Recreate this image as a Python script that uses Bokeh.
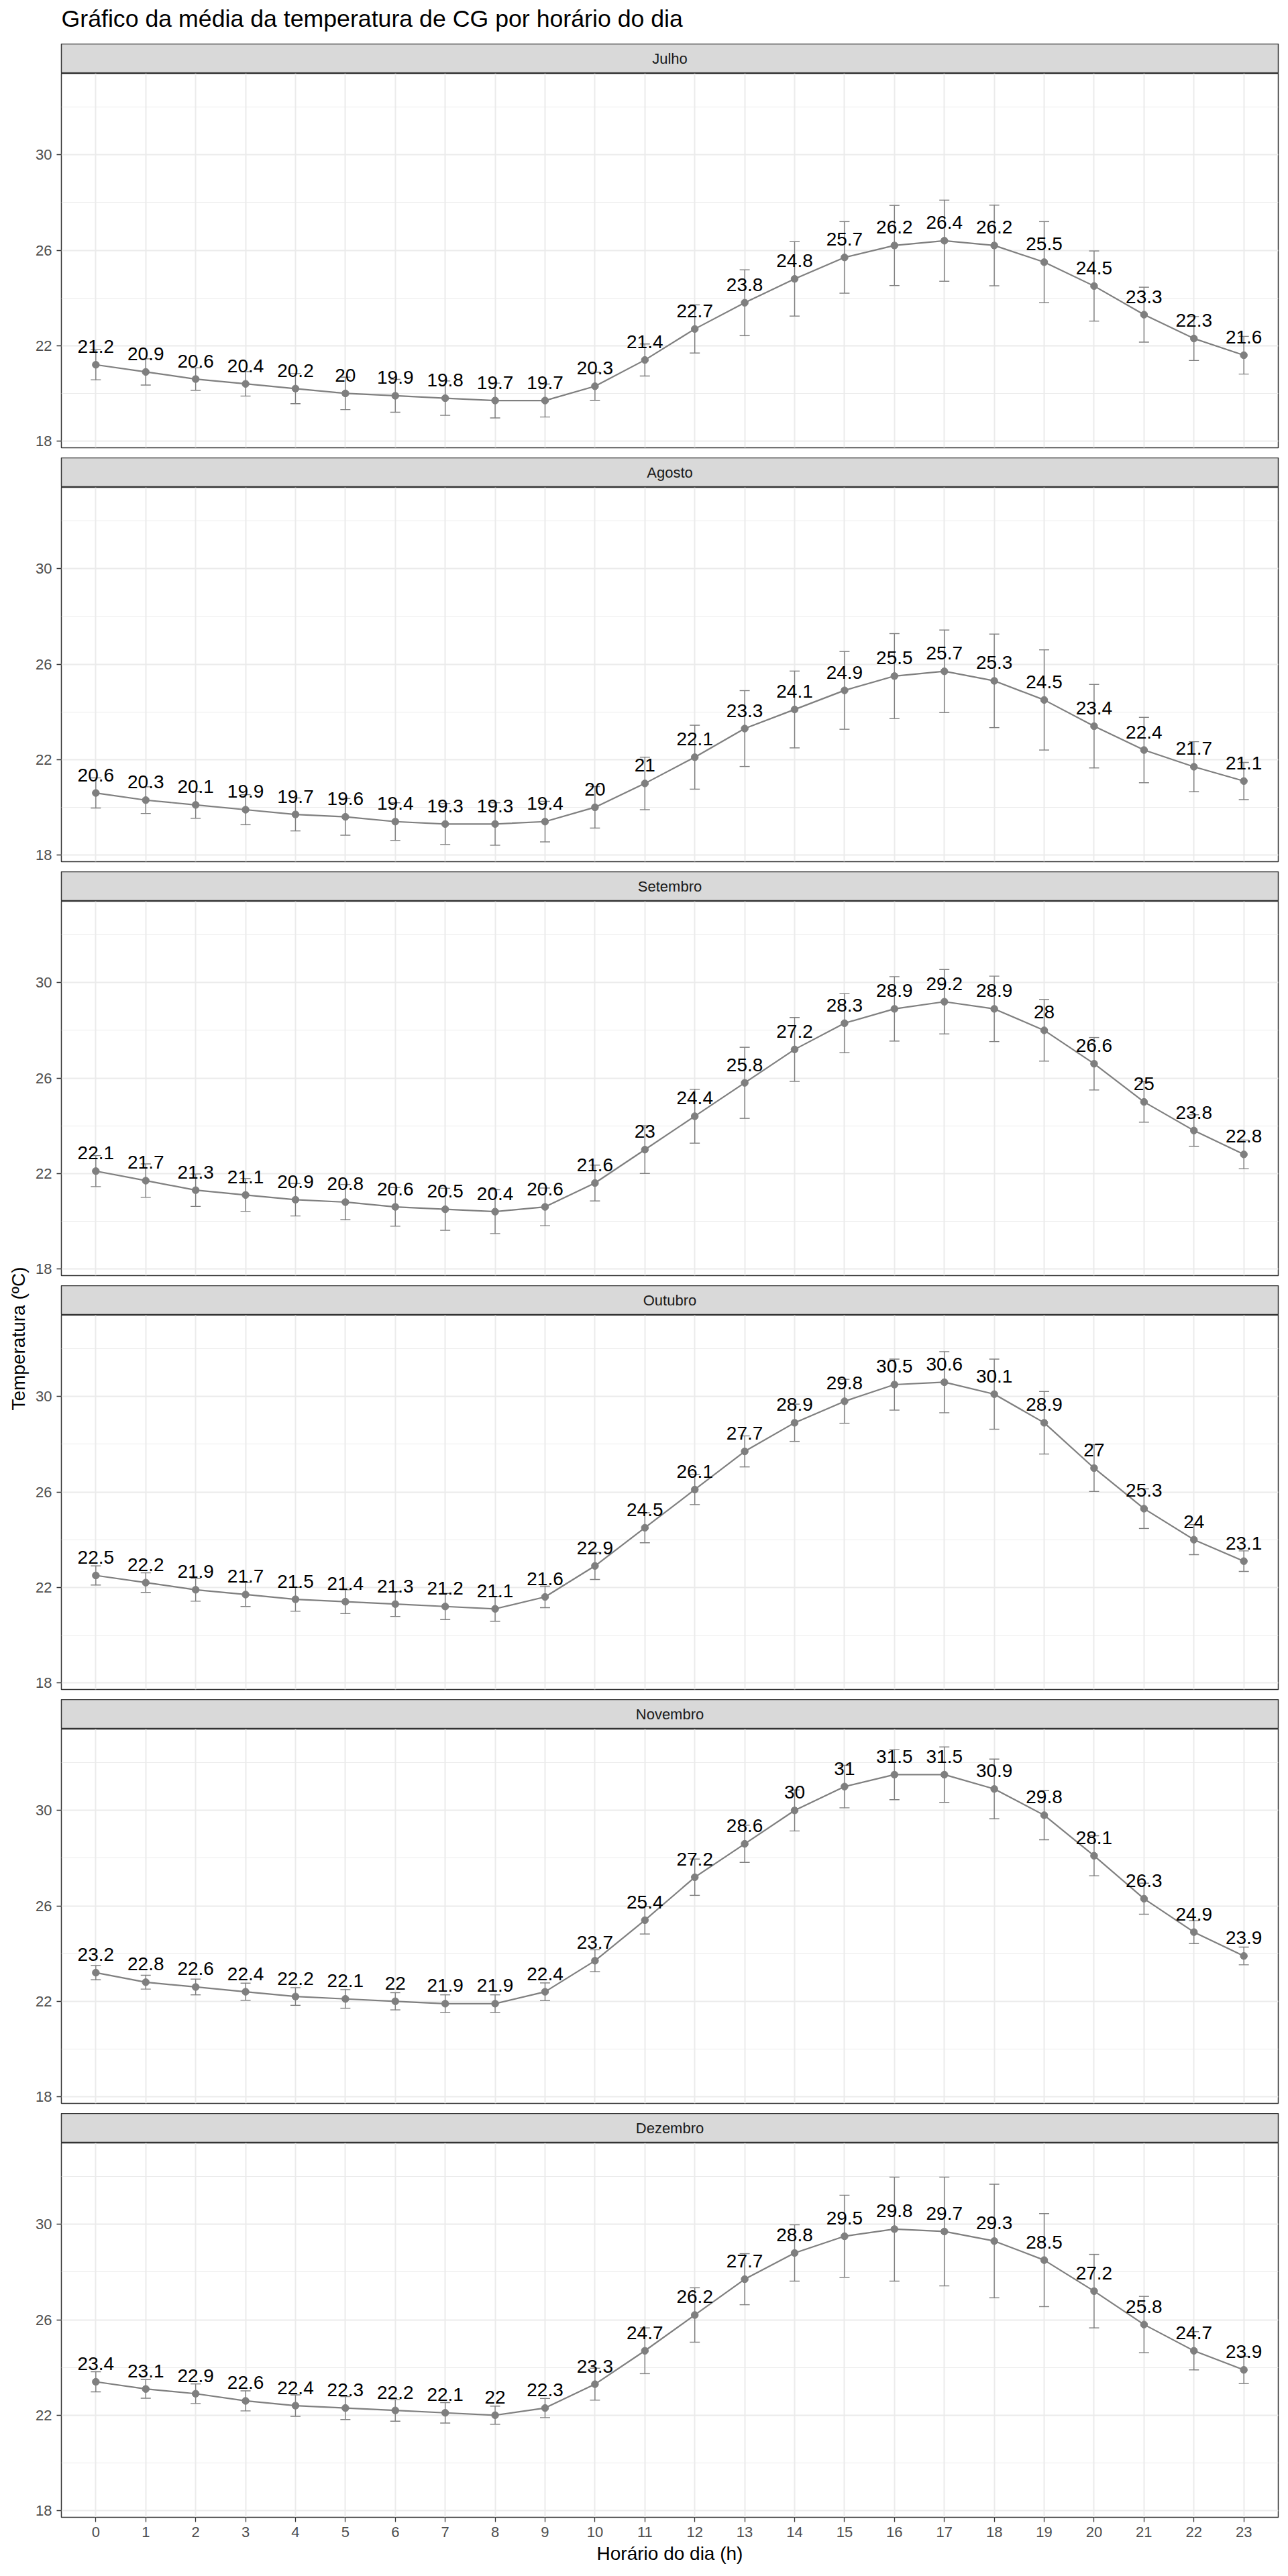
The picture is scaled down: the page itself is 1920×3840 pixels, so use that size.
import math
from bokeh.plotting import figure
from bokeh.layouts import column, row
from bokeh.models import Range1d, FixedTicker, ColumnDataSource, Whisker, TeeHead
from bokeh.embed import file_html
from bokeh.resources import INLINE
from bokeh.core.properties import value

# ---------------- data ----------------
title_text = "Gráfico da média da temperatura de CG por horário do dia"
x_title = "Horário do dia (h)"
y_title = "Temperatura (ºC)"

hours = list(range(24))
x_tick_labels = [str(h) for h in hours]
y_ticks = [18, 22, 26, 30]
y_minor = [20, 24, 28, 32]

months = ["Julho", "Agosto", "Setembro", "Outubro", "Novembro", "Dezembro"]

mean_julho = [21.2, 20.9, 20.6, 20.4, 20.2, 20, 19.9, 19.8, 19.7, 19.7, 20.3, 21.4,
              22.7, 23.8, 24.8, 25.7, 26.2, 26.4, 26.2, 25.5, 24.5, 23.3, 22.3, 21.6]
sd_julho = [0.63, 0.55, 0.47, 0.51, 0.63, 0.68, 0.69, 0.72, 0.73, 0.69, 0.59, 0.67,
            1.01, 1.38, 1.56, 1.50, 1.68, 1.70, 1.69, 1.70, 1.47, 1.15, 0.92, 0.79]

mean_agosto = [20.6, 20.3, 20.1, 19.9, 19.7, 19.6, 19.4, 19.3, 19.3, 19.4, 20, 21,
               22.1, 23.3, 24.1, 24.9, 25.5, 25.7, 25.3, 24.5, 23.4, 22.4, 21.7, 21.1]
sd_agosto = [0.63, 0.56, 0.56, 0.63, 0.69, 0.77, 0.79, 0.86, 0.89, 0.85, 0.87, 1.10,
             1.34, 1.59, 1.61, 1.63, 1.78, 1.73, 1.96, 2.10, 1.75, 1.37, 1.05, 0.78]

mean_setembro = [22.1, 21.7, 21.3, 21.1, 20.9, 20.8, 20.6, 20.5, 20.4, 20.6, 21.6, 23,
                 24.4, 25.8, 27.2, 28.3, 28.9, 29.2, 28.9, 28, 26.6, 25, 23.8, 22.8]
sd_setembro = [0.65, 0.70, 0.68, 0.69, 0.68, 0.74, 0.81, 0.88, 0.92, 0.79, 0.75, 1.00,
               1.13, 1.49, 1.34, 1.24, 1.35, 1.35, 1.37, 1.29, 1.10, 0.85, 0.66, 0.60]

mean_outubro = [22.5, 22.2, 21.9, 21.7, 21.5, 21.4, 21.3, 21.2, 21.1, 21.6, 22.9, 24.5,
                26.1, 27.7, 28.9, 29.8, 30.5, 30.6, 30.1, 28.9, 27, 25.3, 24, 23.1]
sd_outubro = [0.40, 0.41, 0.48, 0.50, 0.50, 0.50, 0.52, 0.55, 0.52, 0.45, 0.57, 0.63,
              0.63, 0.65, 0.78, 0.92, 1.07, 1.28, 1.47, 1.31, 0.98, 0.83, 0.63, 0.43]

mean_novembro = [23.2, 22.8, 22.6, 22.4, 22.2, 22.1, 22, 21.9, 21.9, 22.4, 23.7, 25.4,
                 27.2, 28.6, 30, 31, 31.5, 31.5, 30.9, 29.8, 28.1, 26.3, 24.9, 23.9]
sd_novembro = [0.30, 0.29, 0.33, 0.36, 0.37, 0.39, 0.36, 0.37, 0.37, 0.37, 0.46, 0.58,
               0.76, 0.78, 0.86, 0.89, 1.05, 1.16, 1.25, 1.03, 0.84, 0.65, 0.48, 0.37]

mean_dezembro = [23.4, 23.1, 22.9, 22.6, 22.4, 22.3, 22.2, 22.1, 22, 22.3, 23.3, 24.7,
                 26.2, 27.7, 28.8, 29.5, 29.8, 29.7, 29.3, 28.5, 27.2, 25.8, 24.7, 23.9]
sd_dezembro = [0.42, 0.39, 0.41, 0.42, 0.45, 0.48, 0.45, 0.43, 0.38, 0.40, 0.67, 0.96,
               1.14, 1.07, 1.18, 1.72, 2.18, 2.28, 2.38, 1.95, 1.54, 1.18, 0.80, 0.57]

means = [mean_julho, mean_agosto, mean_setembro, mean_outubro, mean_novembro, mean_dezembro]
sds = [sd_julho, sd_agosto, sd_setembro, sd_outubro, sd_novembro, sd_dezembro]

# ---------------- style ----------------
FONT = "Liberation Sans"
GREY50 = "#7F7F7F"
BORDER = "#333333"
GRID = "#EBEBEB"
TOTAL_W, TOTAL_H = 1920, 3840
YLAB_W = 50
COL_W = TOTAL_W - YLAB_W
LEFT = 41
RIGHT = 15
STRIP_H = 44
PANEL_H = 558
GAP = 15
BOTTOM = 88
TITLE_H = TOTAL_H - 6 * (STRIP_H + PANEL_H) - 5 * GAP - BOTTOM

x_range = Range1d(-0.69, 23.69)
y_lo, y_hi = 17.72, 33.41


def bare_fig(w, h, xr, yr, **kw):
    fig = figure(width=w, height=h, x_range=xr, y_range=yr, output_backend="svg",
                 toolbar_location=None, x_axis_location=None, y_axis_location=None, **kw)
    fig.xgrid.visible = False
    fig.ygrid.visible = False
    fig.border_fill_color = None
    return fig


children = []

# title (frame aligned with the panels' frames)
tfig = bare_fig(COL_W, TITLE_H, Range1d(0, 1), Range1d(0, TITLE_H), min_border=0,
                min_border_left=LEFT, min_border_right=RIGHT)
tfig.outline_line_color = None
tfig.background_fill_color = None
tfig.text(x=[0], y=[TITLE_H - 27.5], text=[title_text], text_font=value(FONT),
          text_font_size=value("35.7px"), text_color="black", text_align="left",
          text_baseline="middle")
children.append(tfig)

for i, (month, m, s) in enumerate(zip(months, means, sds)):
    # strip
    sfig = bare_fig(COL_W, STRIP_H, x_range, Range1d(0, 1), min_border=0,
                    min_border_left=LEFT, min_border_right=RIGHT)
    sfig.background_fill_color = "#D9D9D9"
    sfig.outline_line_color = BORDER
    sfig.outline_line_width = 1.5
    sfig.text(x=[(x_range.start + x_range.end) / 2], y=[0.5], text=[month],
              text_font=value(FONT), text_font_size=value("22px"), text_color="#1A1A1A",
              text_align="center", text_baseline="middle")
    children.append(sfig)

    last = i == len(months) - 1
    bottom = BOTTOM if last else GAP
    p = figure(width=COL_W, height=PANEL_H + bottom, x_range=x_range,
               y_range=Range1d(y_lo, y_hi), output_backend="svg", toolbar_location=None,
               x_axis_location="below" if last else None,
               min_border=0, min_border_left=LEFT, min_border_right=RIGHT,
               min_border_bottom=bottom)
    p.background_fill_color = "white"
    p.border_fill_color = None
    p.outline_line_color = BORDER
    p.outline_line_width = 1.5

    p.yaxis.ticker = FixedTicker(ticks=y_ticks, minor_ticks=y_minor)
    p.xgrid.ticker = FixedTicker(ticks=hours)
    axes = [p.yaxis[0]]
    if last:
        p.xaxis.ticker = FixedTicker(ticks=hours)
        p.xaxis.major_label_overrides = {h: lbl for h, lbl in zip(hours, x_tick_labels)}
        p.xaxis.axis_label = x_title
        p.xaxis.axis_label_text_font = FONT
        p.xaxis.axis_label_text_font_size = "28px"
        p.xaxis.axis_label_text_font_style = "normal"
        p.xaxis.axis_label_text_color = "black"
        p.xaxis.axis_label_standoff = 6
        axes.append(p.xaxis[0])
    for ax in axes:
        ax.axis_line_color = None
        ax.major_tick_line_color = BORDER
        ax.major_tick_line_width = 1.3
        ax.major_tick_out = 7
        ax.major_tick_in = 0
        ax.minor_tick_line_color = None
        ax.major_label_text_font = FONT
        ax.major_label_text_font_size = "22px"
        ax.major_label_text_color = "#4D4D4D"
        ax.major_label_standoff = 7
    p.ygrid.grid_line_color = GRID
    p.ygrid.grid_line_width = 2.2
    p.ygrid.minor_grid_line_color = GRID
    p.ygrid.minor_grid_line_width = 1.2
    p.xgrid.grid_line_color = GRID
    p.xgrid.grid_line_width = 2.0

    src = ColumnDataSource(dict(
        h=hours, m=m,
        lo=[a - b for a, b in zip(m, s)],
        hi=[a + b for a, b in zip(m, s)],
        lbl=[f"{v:g}" for v in m],
    ))
    w = Whisker(base="h", lower="lo", upper="hi", source=src, line_color=GREY50,
                line_width=1.4,
                upper_head=TeeHead(size=15, line_color=GREY50, line_width=1.4),
                lower_head=TeeHead(size=15, line_color=GREY50, line_width=1.4))
    p.add_layout(w)
    p.line(x="h", y="m", source=src, line_color=GREY50, line_width=2.2)
    p.scatter(x="h", y="m", source=src, size=10.5, fill_color=GREY50, line_color=GREY50)
    p.text(x="h", y="m", text="lbl", source=src, text_font=value(FONT),
           text_font_size=value("28px"), text_color="black", text_align="center",
           text_baseline="middle", y_offset=-27)
    children.append(p)

# y-axis title, centred on the panel area
YF_H = TOTAL_H - BOTTOM
yfig = bare_fig(YLAB_W, TOTAL_H, Range1d(0, YLAB_W), Range1d(0, YF_H), min_border=0,
                min_border_bottom=BOTTOM)
yfig.outline_line_color = None
yfig.background_fill_color = None
yfig.text(x=[27], y=[YF_H - 1995], text=[y_title], angle=math.pi / 2,
          text_font=value(FONT), text_font_size=value("28px"), text_color="black",
          text_align="center", text_baseline="middle")

layout = row(yfig, column(*children, spacing=0), spacing=0)

with open("out.html", "w") as f:
    f.write(file_html(layout, INLINE))
